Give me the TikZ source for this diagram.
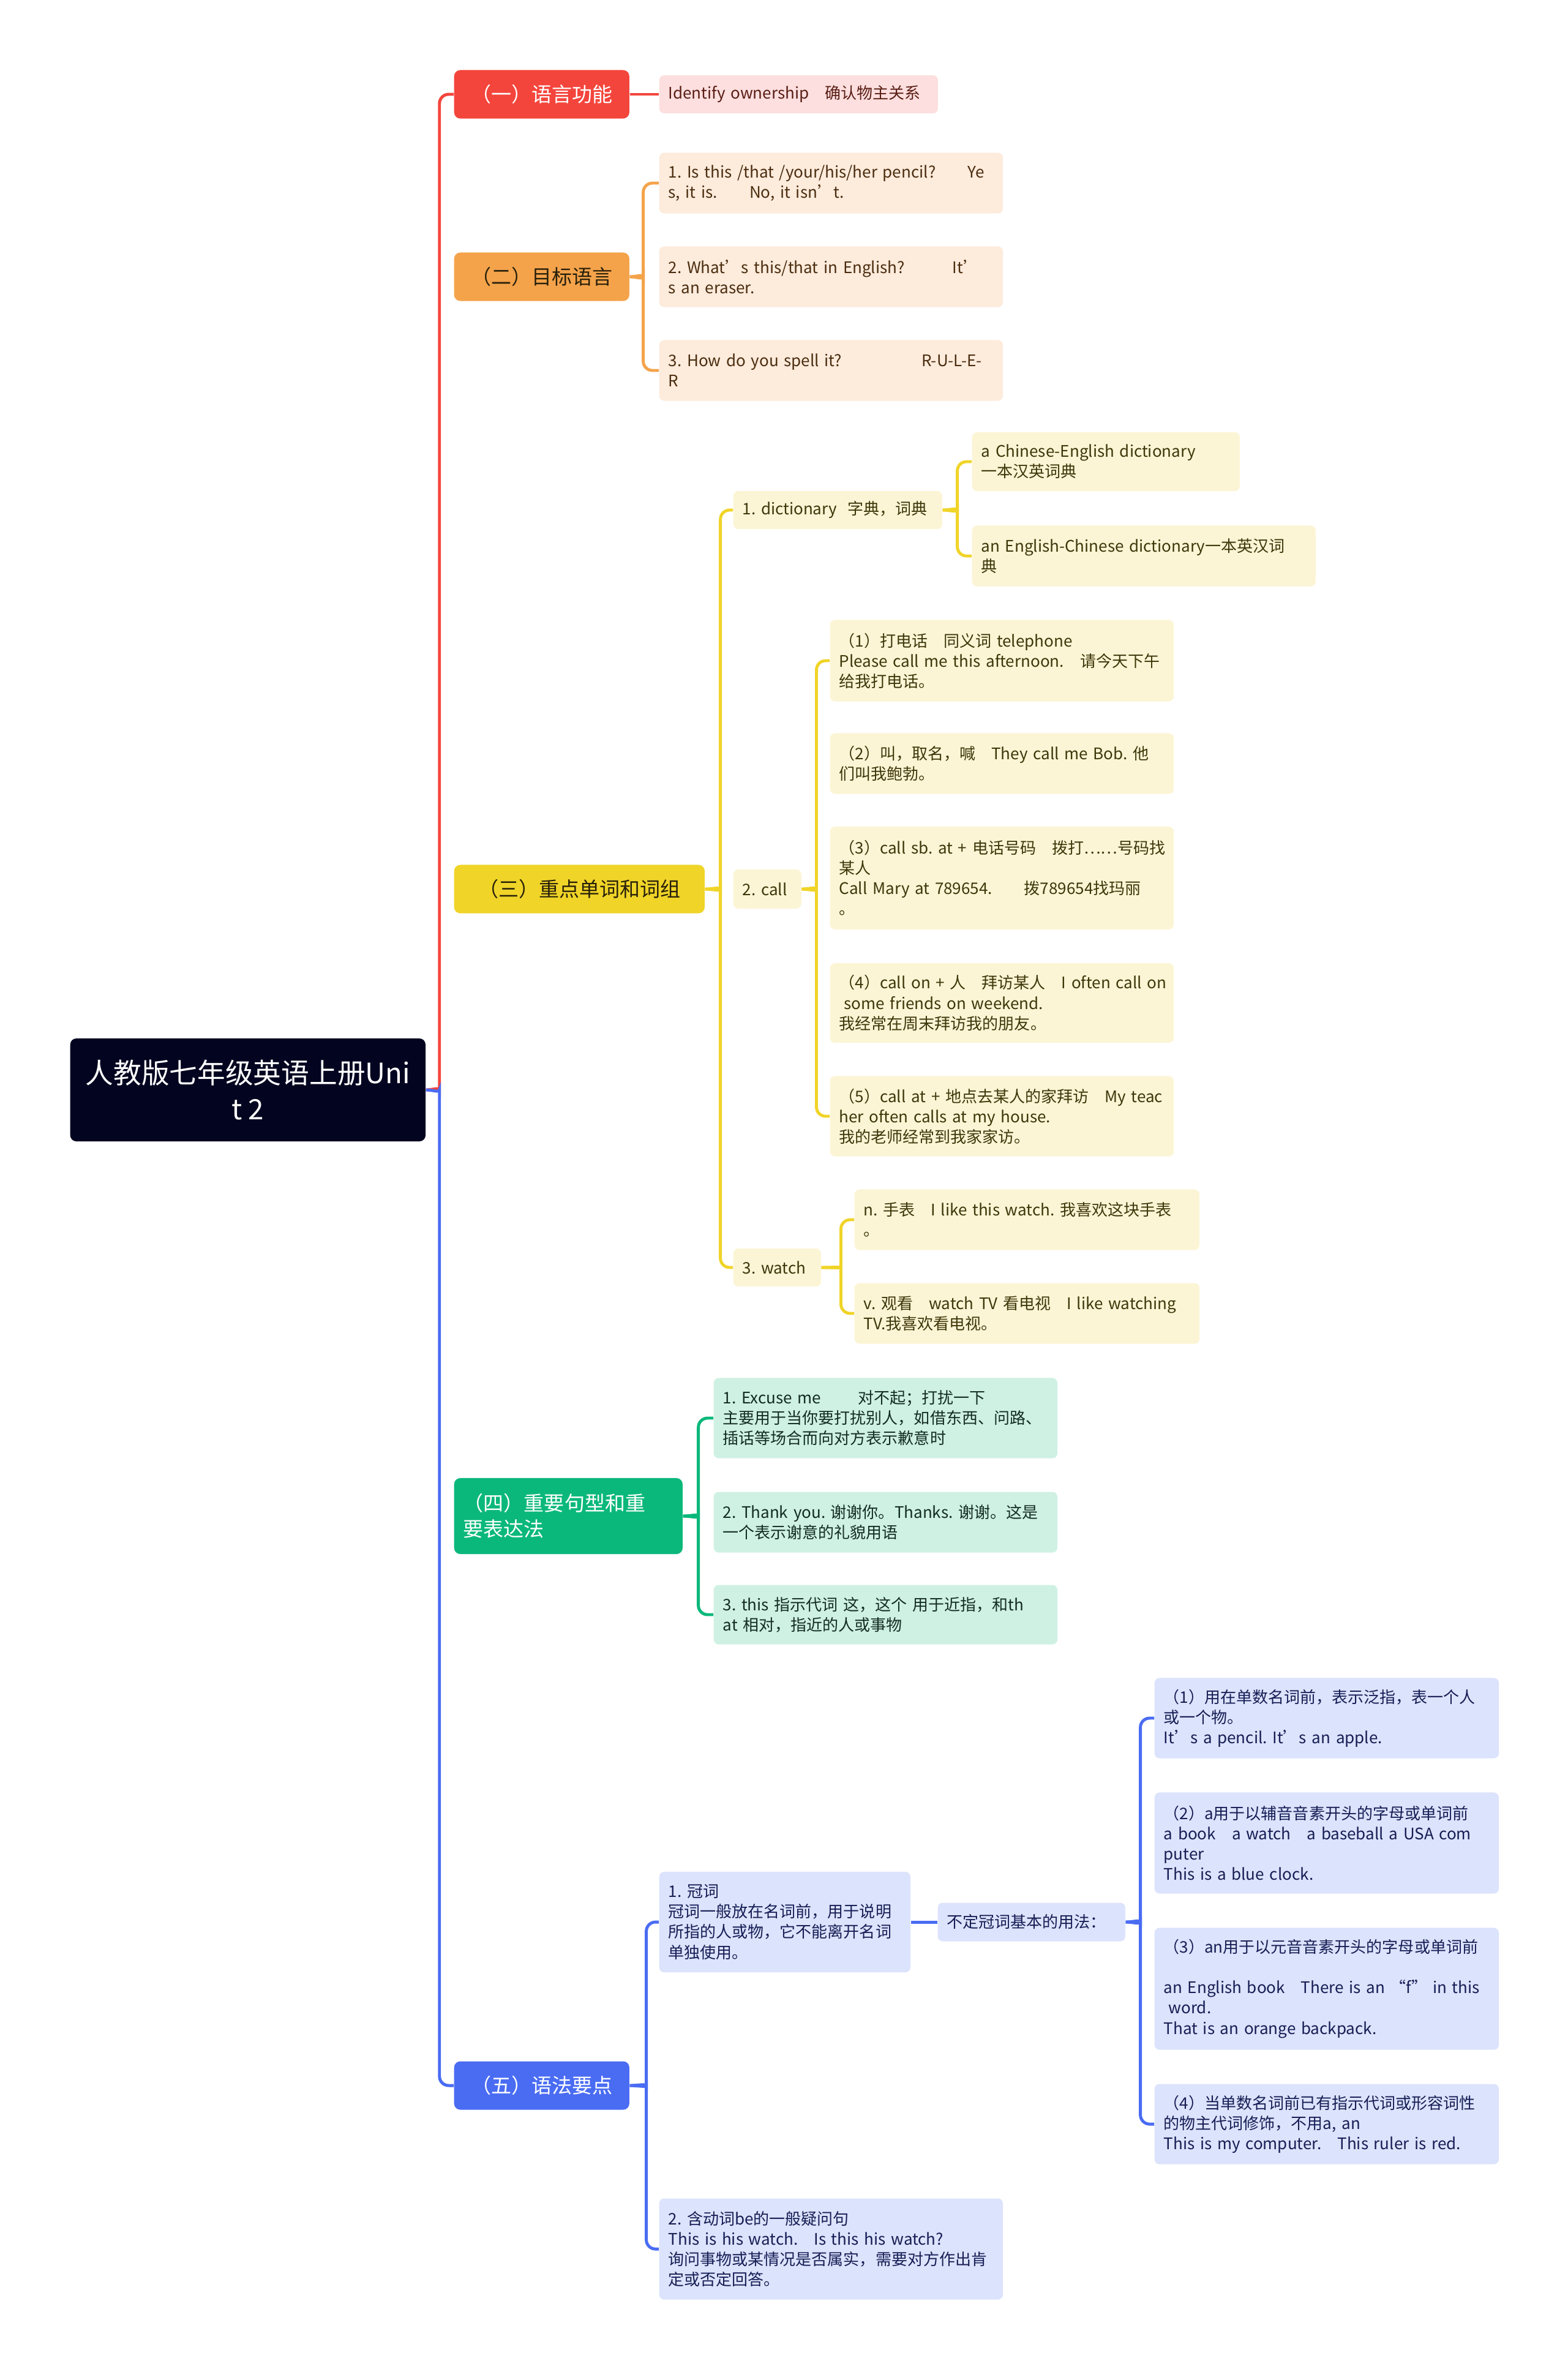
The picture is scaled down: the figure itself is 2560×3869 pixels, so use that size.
\documentclass[tikz,border=0pt]{standalone}
\usepackage{fontspec}
\setmainfont{Noto Sans CJK SC}
\usepackage{tikz}
\usetikzlibrary{positioning}
\frenchspacing
\definecolor{rootink}{RGB}{3,5,32}
\definecolor{redbr}{RGB}{244,69,60}
\definecolor{redleaf}{RGB}{253,223,223}
\definecolor{redtext}{RGB}{90,30,20}
\definecolor{orgbr}{RGB}{244,163,75}
\definecolor{orgleaf}{RGB}{253,235,220}
\definecolor{orgtext}{RGB}{75,45,15}
\definecolor{yelbr}{RGB}{240,212,40}
\definecolor{yelleaf}{RGB}{252,245,213}
\definecolor{yeltext}{RGB}{62,55,10}
\definecolor{grnbr}{RGB}{11,184,123}
\definecolor{grnleaf}{RGB}{207,241,227}
\definecolor{grntext}{RGB}{20,45,35}
\definecolor{blubr}{RGB}{74,108,243}
\definecolor{bluleaf}{RGB}{220,227,252}
\definecolor{blutext}{RGB}{22,30,85}
\definecolor{darktext}{RGB}{40,32,10}
% brace from #1 to its first (#3) and last (#4) child, spine #2 right of #1
\newcommand{\curly}[5]{%
  \coordinate (spine) at ([xshift=#2]#1.east);
  \draw[link, #5] (#3.west) -| ([yshift=0.15cm]spine) to[out=-90, in=0] (#1.east);
  \draw[link, #5] (#4.west) -| ([yshift=-0.15cm]spine) to[out=90, in=0] (#1.east);
}

\begin{document}
\begin{tikzpicture}[x=0.01cm, y=-0.01cm,
  root/.style={fill=rootink, text=white, rounded corners=0.1cm, anchor=west, align=center,
    minimum width=5.8cm, minimum height=1.68cm, font=\fontsize{13}{16.8}\selectfont},
  branch/.style={rounded corners=0.1cm, anchor=west, align=center, inner xsep=0.15cm,
    minimum width=2.86cm, minimum height=0.79cm, font=\fontsize{9.4}{12}\selectfont},
  leaf/.style 2 args={rounded corners=0.08cm, anchor=west, align=left, inner xsep=0.15cm,
    inner ysep=0pt, text width=#1, minimum height=#2, font=\fontsize{7.4}{9.4}\selectfont,
    execute at begin node={\rightskip=0pt plus 2em minus 0.5cm\relax}},
  redl/.style={fill=redleaf, text=redtext},
  orgl/.style={fill=orgleaf, text=orgtext},
  yell/.style={fill=yelleaf, text=yeltext},
  grnl/.style={fill=grnleaf, text=grntext},
  blul/.style={fill=bluleaf, text=blutext},
  link/.style={line width=1.4pt, rounded corners=0.15cm}]
\useasboundingbox (0,0) rectangle (2560,3869);

\node[root] (root) at (114,1780) {人教版七年级英语上册Uni\\t 2};

% (一)
\node[branch, fill=redbr, text=white] (lang) at (741,154) {（一）语言功能};
\node[leaf={4.25cm}{0.62cm}, redl] (own) at (1076,154) {Identify ownership　确认物主关系};
\draw[link, redbr] (lang) -- (own);

% (二)
\node[branch, fill=orgbr, text=darktext] (target) at (741,452) {（二）目标语言};
\node[leaf={5.31cm}{0.99cm}, orgl] (pen) at (1076,299) {1. Is this /that /your/his/her pencil?　　Ye\\s, it is.　　No, it isn’t.};
\node[leaf={5.31cm}{0.99cm}, orgl] (eraser) at (1076,452) {2. What’s this/that in English?　　　It’\\s an eraser.};
\node[leaf={5.31cm}{0.99cm}, orgl] (spell) at (1076,605) {3. How do you spell it?　　　　　R-U-L-E-\\R};
\curly{target}{0.22cm}{pen}{spell}{orgbr}

% (三)
\node[branch, fill=yelbr, text=darktext, minimum width=4.09cm] (words) at (741,1452) {（三）重点单词和词组};
\node[leaf={3.11cm}{0.62cm}, yell] (dict) at (1197,833) {1. dictionary~ 字典，词典};
\node[leaf={4.07cm}{0.96cm}, yell] (dictce) at (1587,754) {a Chinese-English dictionary\\一本汉英词典};
\node[leaf={5.31cm}{0.99cm}, yell] (dictec) at (1587,908) {an English-Chinese dictionary一本英汉词\\典};
\curly{dict}{0.24cm}{dictce}{dictec}{yelbr}

\node[leaf={0.81cm}{0.64cm}, yell] (call) at (1197,1452) {2. call};
\node[leaf={5.31cm}{1.33cm}, yell] (callA) at (1355,1079) {（1）打电话　同义词  telephone\\Please call me this afternoon.　请今天下午\\给我打电话。};
\node[leaf={5.31cm}{0.99cm}, yell] (callB) at (1355,1247) {（2）叫，取名，喊　They call me Bob. 他\\们叫我鲍勃。};
\node[leaf={5.31cm}{1.68cm}, yell] (callC) at (1355,1434) {（3）call sb. at + 电话号码　拨打……号码找\\某人\\Call Mary at 789654.　　拨789654找玛丽\\。};
\node[leaf={5.31cm}{1.30cm}, yell] (callD) at (1355,1638) {（4）call on + 人　拜访某人　I often call on\\\hspace*{0.3em}some friends on weekend.\\我经常在周末拜访我的朋友。};
\node[leaf={5.31cm}{1.31cm}, yell] (callE) at (1355,1823) {（5）call at + 地点去某人的家拜访　My teac\\her often calls at my house.\\我的老师经常到我家家访。};
\curly{call}{0.24cm}{callA}{callE}{yelbr}

\node[leaf={1.13cm}{0.62cm}, yell] (watch) at (1197,2070) {3. watch};
\node[leaf={5.33cm}{0.99cm}, yell] (watchN) at (1395,1992) {n. 手表　I like this watch.  我喜欢这块手表\\。};
\node[leaf={5.33cm}{0.99cm}, yell] (watchV) at (1395,2145) {v. 观看　watch TV 看电视　I like watching\\TV.我喜欢看电视。};
\curly{watch}{0.32cm}{watchN}{watchV}{yelbr}
\curly{words}{0.25cm}{dict}{watch}{yelbr}

% (四)
\node[branch, fill=grnbr, text=white, align=left, text width=3.43cm, minimum height=1.24cm] (sent) at (741,2476) {（四）重要句型和重\\要表达法};
\node[leaf={5.31cm}{1.31cm}, grnl] (excuse) at (1165,2316) {1. Excuse me　　 对不起；打扰一下\\主要用于当你要打扰别人，如借东西、问路、\\插话等场合而向对方表示歉意时};
\node[leaf={5.31cm}{0.99cm}, grnl] (thanks) at (1165,2486) {2. Thank you.  谢谢你。Thanks. 谢谢。这是\\一个表示谢意的礼貌用语};
\node[leaf={5.31cm}{0.97cm}, grnl] (this) at (1165,2637) {3. this  指示代词  这，这个  用于近指，和th\\at 相对，指近的人或事物};
\curly{sent}{0.25cm}{excuse}{this}{grnbr}

% (五)
\node[branch, fill=blubr, text=white] (gram) at (741,3406) {（五）语法要点};
\node[leaf={3.80cm}{1.64cm}, blul] (art) at (1076,3139) {1. 冠词\\冠词一般放在名词前，用于说明\\所指的人或物，它不能离开名词\\单独使用。};
\node[leaf={2.76cm}{0.63cm}, blul] (indef) at (1531,3139) {不定冠词基本的用法：};
\draw[link, blubr] (art) -- (indef);
\node[leaf={5.32cm}{1.31cm}, blul] (useA) at (1885,2806) {（1）用在单数名词前，表示泛指，表一个人\\或一个物。\\It’s a pencil.  It’s an apple.};
\node[leaf={5.32cm}{1.65cm}, blul] (useB) at (1885,3010) {（2）a用于以辅音音素开头的字母或单词前\\a book　a watch　a baseball  a USA com\\puter\\This is a blue clock.};
\node[leaf={5.32cm}{1.99cm}, blul] (useC) at (1885,3248) {（3）an用于以元音音素开头的字母或单词前\\[9.4pt]an English book　There is an “f” in this\\\hspace*{0.3em}word.\\That is an orange backpack.};
\node[leaf={5.32cm}{1.31cm}, blul] (useD) at (1885,3469) {（4）当单数名词前已有指示代词或形容词性\\的物主代词修饰，不用a, an\\This is my computer.　This ruler is red.};
\curly{indef}{0.24cm}{useA}{useD}{blubr}
\node[leaf={5.31cm}{1.65cm}, blul] (bequest) at (1076,3673) {2. 含动词be的一般疑问句\\This is his watch.　Is this his watch?\\询问事物或某情况是否属实，需要对方作出肯\\定或否定回答。};
\curly{gram}{0.27cm}{art}{bequest}{blubr}

% trunk: red half up to (一), blue half down to (五)
\coordinate (trunk) at ([xshift=0.22cm]root.east);
\draw[link, redbr] (lang.west) -| ([yshift=0.15cm]trunk) to[out=-90, in=0] (root.east);
\draw[link, blubr] (gram.west) -| ([yshift=-0.15cm]trunk) to[out=90, in=0] (root.east);
\end{tikzpicture}
\end{document}
